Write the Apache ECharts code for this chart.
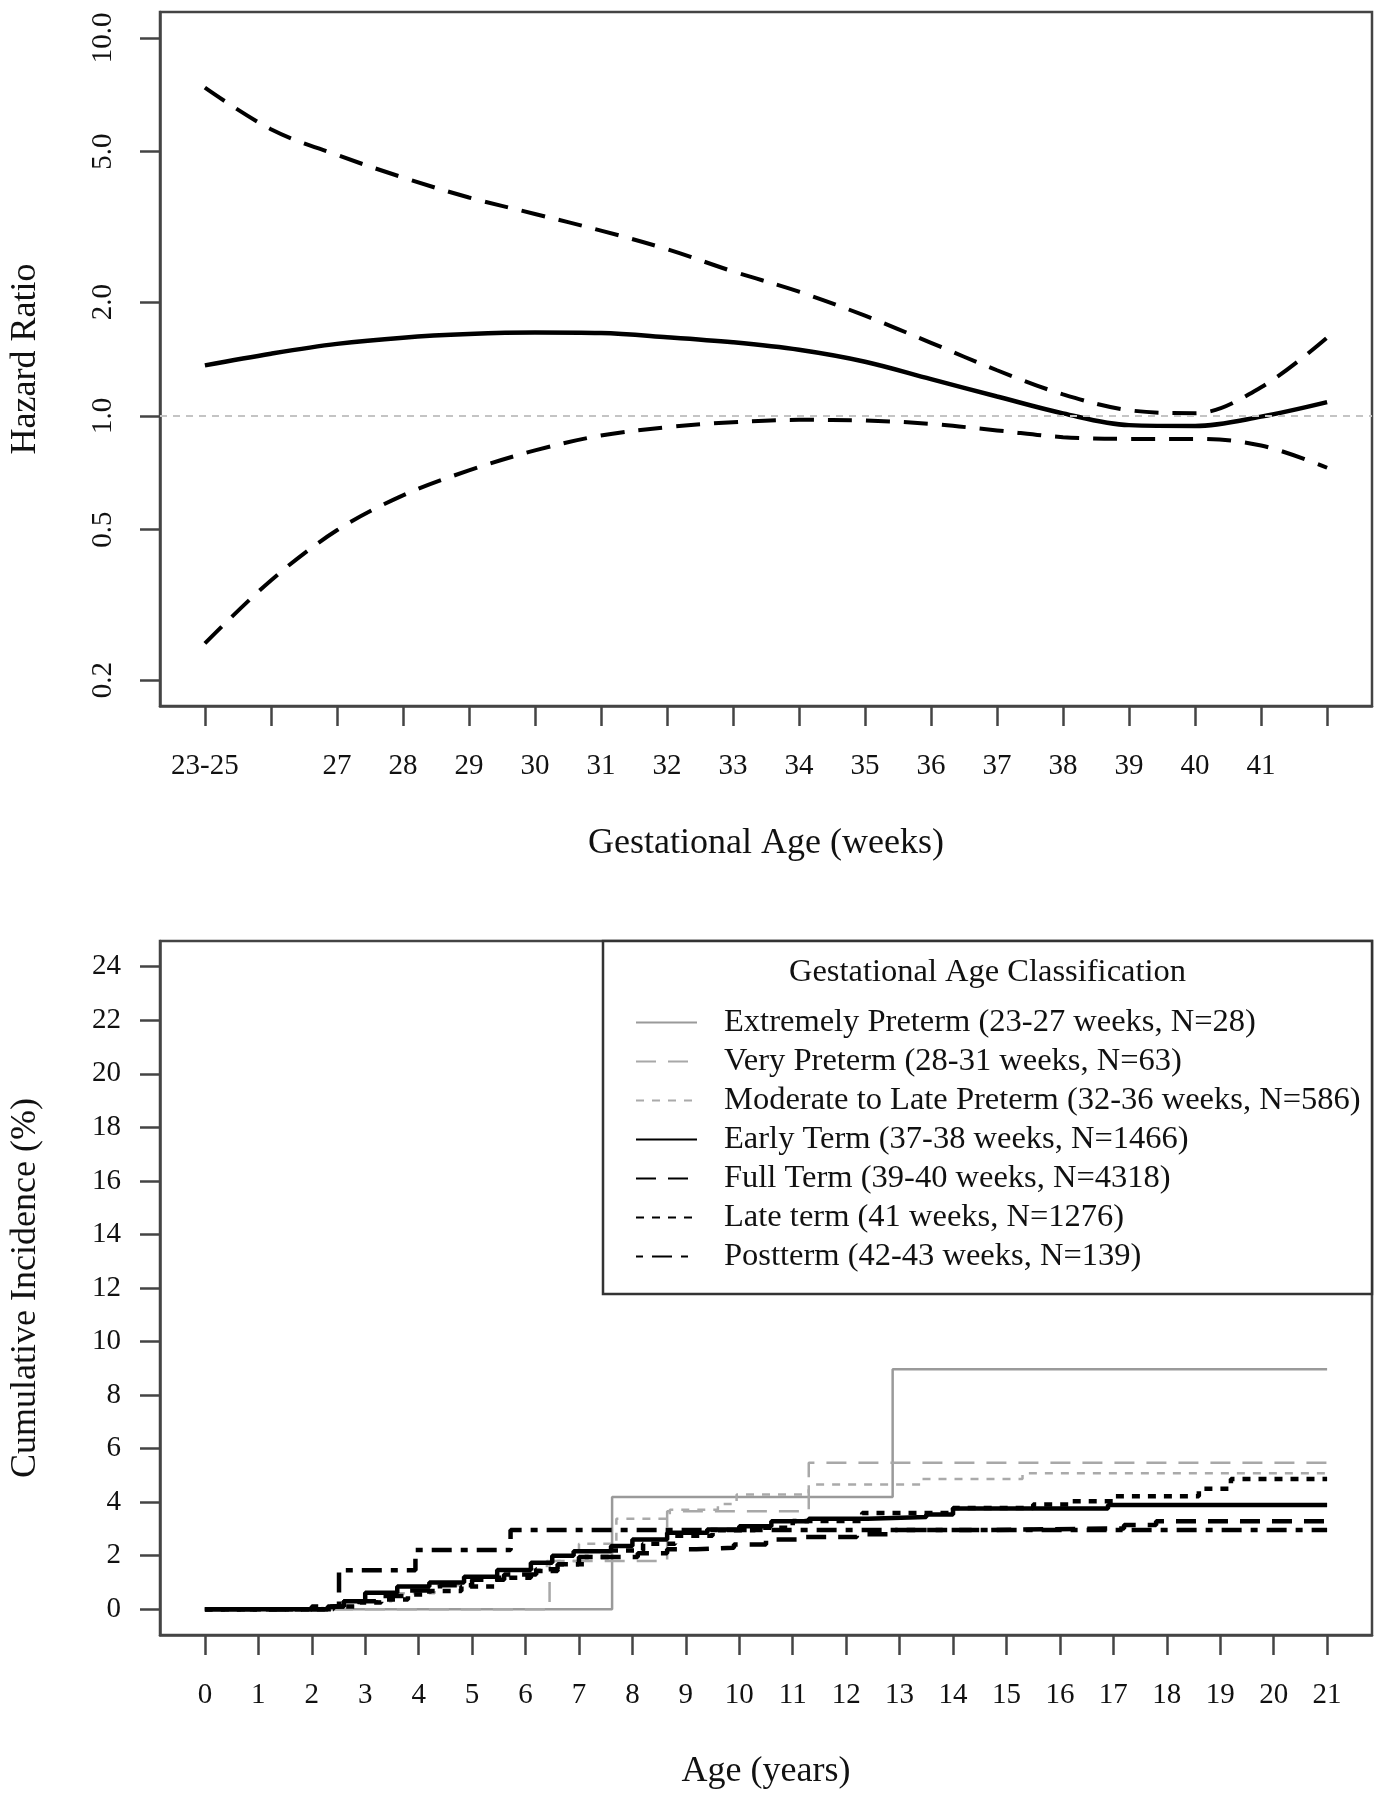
<!DOCTYPE html>
<html><head><meta charset="utf-8">
<script src="https://cdn.jsdelivr.net/npm/echarts@6/dist/echarts.min.js"></script>
<style>html,body{margin:0;padding:0;background:#fff}#c{width:1385px;height:1800px}</style>
</head><body><div id="c"></div>
<script>
// ---------- Top panel: hazard ratio by gestational age ----------
const weeks = [25,26,27,28,29,30,31,32,33,34,35,36,37,38,39,40,41,42];
const hrEstimate = [1.36,1.46,1.55,1.61,1.645,1.66,1.655,1.615,1.565,1.495,1.39,1.25,1.125,1.015,0.945,0.94,0.995,1.087];
const hrUpper = [7.38,5.73,4.90,4.27,3.78,3.42,3.09,2.76,2.41,2.13,1.84,1.56,1.32,1.14,1.035,1.016,1.19,1.61];
const hrLower = [0.25,0.367,0.498,0.616,0.717,0.81,0.887,0.933,0.962,0.976,0.972,0.952,0.915,0.878,0.869,0.869,0.835,0.729];
const weekLabelValues = [25,27,28,29,30,31,32,33,34,35,36,37,38,39,40,41];
const weekLabelTexts = ['23-25','27','28','29','30','31','32','33','34','35','36','37','38','39','40','41'];
const hrTicks = [0.2,0.5,1,2,5,10];
const hrTickTexts = ['0.2','0.5','1.0','2.0','5.0','10.0'];

// ---------- Bottom panel: cumulative incidence by age ----------
const ageTicks = [0,1,2,3,4,5,6,7,8,9,10,11,12,13,14,15,16,17,18,19,20,21];
const incTicks = [0,2,4,6,8,10,12,14,16,18,20,22,24];
const legendTitle = 'Gestational Age Classification';
const groupNames = [
  'Extremely Preterm (23-27 weeks, N=28)',
  'Very Preterm (28-31 weeks, N=63)',
  'Moderate to Late Preterm (32-36 weeks, N=586)',
  'Early Term (37-38 weeks, N=1466)',
  'Full Term (39-40 weeks, N=4318)',
  'Late term (41 weeks, N=1276)',
  'Postterm (42-43 weeks, N=139)'
];
const extAge = [0,7.62,12.87,21];
const extVal = [0,4.19,8.97,8.97];
const veryAge = [0,6.45,8.65,11.3,21];
const veryVal = [0,1.8,3.66,5.47,5.47];
const modAge = [0,2.2,2.8,3.5,4.3,5.0,5.7,6.4,7.0,7.7,8.7,9.6,9.95,11.3,13.4,15.3,21];
const modVal = [0,0.1,0.3,0.6,0.9,1.2,1.5,1.8,2.45,3.38,3.72,3.93,4.29,4.66,4.87,5.08,5.08];
const earlyAge = [0,2.3,2.6,3.0,3.6,4.2,4.85,5.47,6.1,6.5,6.9,7.6,8.0,8.65,9.4,10.0,10.6,11.3,12.4,13.5,14.0,16.9,21];
const earlyVal = [0,0.1,0.3,0.62,0.85,1.0,1.22,1.47,1.74,2.0,2.17,2.36,2.61,2.86,2.98,3.1,3.29,3.38,3.45,3.54,3.76,3.9,3.9];
const fullAge = [0,2.0,2.6,3.2,3.8,4.4,5.0,5.6,6.2,6.6,7.0,8.1,8.65,9.2,9.9,10.5,11.2,12.2,12.9,14.5,17.2,17.8,21];
const fullVal = [0,0.1,0.3,0.5,0.7,0.9,1.1,1.3,1.5,1.68,1.95,2.09,2.24,2.3,2.42,2.61,2.70,2.8,2.96,3.02,3.15,3.29,3.29];
const lateAge = [0,2.4,2.9,3.3,3.8,4.2,4.8,5.47,6.1,6.6,7.1,7.6,8.2,8.8,9.5,10.3,11.0,12.3,14.0,15.5,16.2,17.0,18.6,19.2,21];
const lateVal = [0,0.1,0.25,0.37,0.55,0.68,0.85,1.18,1.43,1.68,1.95,2.2,2.45,2.75,2.95,3.05,3.3,3.6,3.78,3.91,4.04,4.22,4.5,4.87,4.87];
const postAge = [0,2.51,3.94,5.72,21];
const postVal = [0,1.46,2.21,2.96,2.96];

const FONT = "'Liberation Serif', 'DejaVu Serif', serif";
const AX = '#444';
const zip = (a, b) => a.map((v, i) => [v, b[i]]);

const chart = echarts.init(document.getElementById('c'), null, {renderer: 'canvas'});

function stepSeries(name, ages, vals, color, width, type) {
  return {
    name, type: 'line', xAxisIndex: 1, yAxisIndex: 1, step: 'end',
    symbol: 'none', showSymbol: false, silent: true,
    data: zip(ages, vals),
    lineStyle: {color, width, type, cap: 'butt'},
    itemStyle: {color}
  };
}

const axisCommon = {
  axisLine: {show: true, onZero: false, lineStyle: {color: AX, width: 2.5}},
  splitLine: {show: false}
};
const tickStyle = {show: true, inside: false, length: 20, lineStyle: {color: AX, width: 2.5}};
const nameStyle = {fontFamily: FONT, fontSize: 36, color: '#111'};
const labelBase = {fontFamily: FONT, fontSize: 29, color: '#111'};

const option = {
  animation: false,
  backgroundColor: '#fff',
  textStyle: {fontFamily: FONT},
  grid: [
    {left: 159, right: 13, top: 12, height: 694, show: true, borderColor: AX, borderWidth: 2.5, backgroundColor: 'transparent'},
    {left: 159, right: 13, top: 941, height: 694, show: true, borderColor: AX, borderWidth: 2.5, backgroundColor: 'transparent'}
  ],
  xAxis: [
    Object.assign({
      gridIndex: 0, type: 'value', min: 24.32, max: 42.68,
      name: 'Gestational Age (weeks)', nameLocation: 'middle', nameGap: 120, nameTextStyle: nameStyle,
      axisTick: Object.assign({customValues: weeks}, tickStyle),
      axisLabel: Object.assign({customValues: weekLabelValues, margin: 46,
        formatter: v => weekLabelTexts[weekLabelValues.indexOf(v)]}, labelBase)
    }, axisCommon),
    Object.assign({
      gridIndex: 1, type: 'value', min: -0.84, max: 21.84,
      name: 'Age (years)', nameLocation: 'middle', nameGap: 119, nameTextStyle: nameStyle,
      axisTick: Object.assign({customValues: ageTicks}, tickStyle),
      axisLabel: Object.assign({customValues: ageTicks, margin: 46}, labelBase)
    }, axisCommon)
  ],
  yAxis: [
    Object.assign({
      gridIndex: 0, type: 'log', logBase: 10, min: 0.1708, max: 11.7,
      name: 'Hazard Ratio', nameLocation: 'middle', nameGap: 116, nameRotate: 90, nameTextStyle: nameStyle,
      axisTick: Object.assign({customValues: hrTicks}, tickStyle),
      axisLabel: Object.assign({customValues: hrTicks, rotate: 90, margin: 42,
        formatter: v => hrTickTexts[hrTicks.findIndex(t => Math.abs(t - v) < 1e-6)]}, labelBase)
    }, axisCommon),
    Object.assign({
      gridIndex: 1, type: 'value', min: -0.96, max: 24.96,
      name: 'Cumulative Incidence (%)', nameLocation: 'middle', nameGap: 116, nameRotate: 90, nameTextStyle: nameStyle,
      axisTick: Object.assign({customValues: incTicks}, tickStyle),
      axisLabel: Object.assign({customValues: incTicks, margin: 39}, labelBase)
    }, axisCommon)
  ],
  legend: {
    orient: 'vertical', left: 630, top: 1001, itemWidth: 61, itemHeight: 14, itemGap: 6,
    selectedMode: false,
    itemStyle: {color: 'rgba(0,0,0,0)', borderColor: 'rgba(0,0,0,0)', borderWidth: 0},
    textStyle: {fontFamily: FONT, fontSize: 32.5, color: '#111', lineHeight: 31, padding: [0, 0, 0, 22]},
    data: groupNames
  },
  graphic: [
    {type: 'rect', z: 1, shape: {x: 603, y: 941, width: 769, height: 353},
      style: {fill: '#fff', stroke: '#333', lineWidth: 2.5}},
    {type: 'text', z: 2, x: 987.5, y: 972,
      style: {text: legendTitle, font: "32.5px 'Liberation Serif'", fill: '#111', align: 'center', verticalAlign: 'middle'}}
  ],
  series: [
    {
      name: 'HR upper', type: 'line', xAxisIndex: 0, yAxisIndex: 0, smooth: 0.35, symbol: 'none', silent: true,
      data: zip(weeks, hrUpper), lineStyle: {color: '#000', width: 4, type: [24, 14], cap: 'butt'}
    },
    {
      name: 'HR', type: 'line', xAxisIndex: 0, yAxisIndex: 0, smooth: 0.35, symbol: 'none', silent: true,
      data: zip(weeks, hrEstimate), lineStyle: {color: '#000', width: 4.5},
      markLine: {silent: true, symbol: ['none', 'none'], label: {show: false},
        lineStyle: {color: '#c4c4c4', width: 2, type: [7, 6]}, data: [{yAxis: 1}]}
    },
    {
      name: 'HR lower', type: 'line', xAxisIndex: 0, yAxisIndex: 0, smooth: 0.35, symbol: 'none', silent: true,
      data: zip(weeks, hrLower), lineStyle: {color: '#000', width: 4, type: [24, 14], cap: 'butt'}
    },
    stepSeries(groupNames[0], extAge, extVal, '#9a9a9a', 2.5, 'solid'),
    stepSeries(groupNames[1], veryAge, veryVal, '#a8a8a8', 2.5, [20, 12]),
    stepSeries(groupNames[2], modAge, modVal, '#aaaaaa', 2.5, [8, 8]),
    stepSeries(groupNames[3], earlyAge, earlyVal, '#000', 4.5, 'solid'),
    stepSeries(groupNames[4], fullAge, fullVal, '#000', 4.5, [20, 12]),
    stepSeries(groupNames[5], lateAge, lateVal, '#000', 4.5, [8, 8]),
    stepSeries(groupNames[6], postAge, postVal, '#000', 4.5, [7, 9, 20, 9])
  ]
};
chart.setOption(option);
</script>
</body></html>
